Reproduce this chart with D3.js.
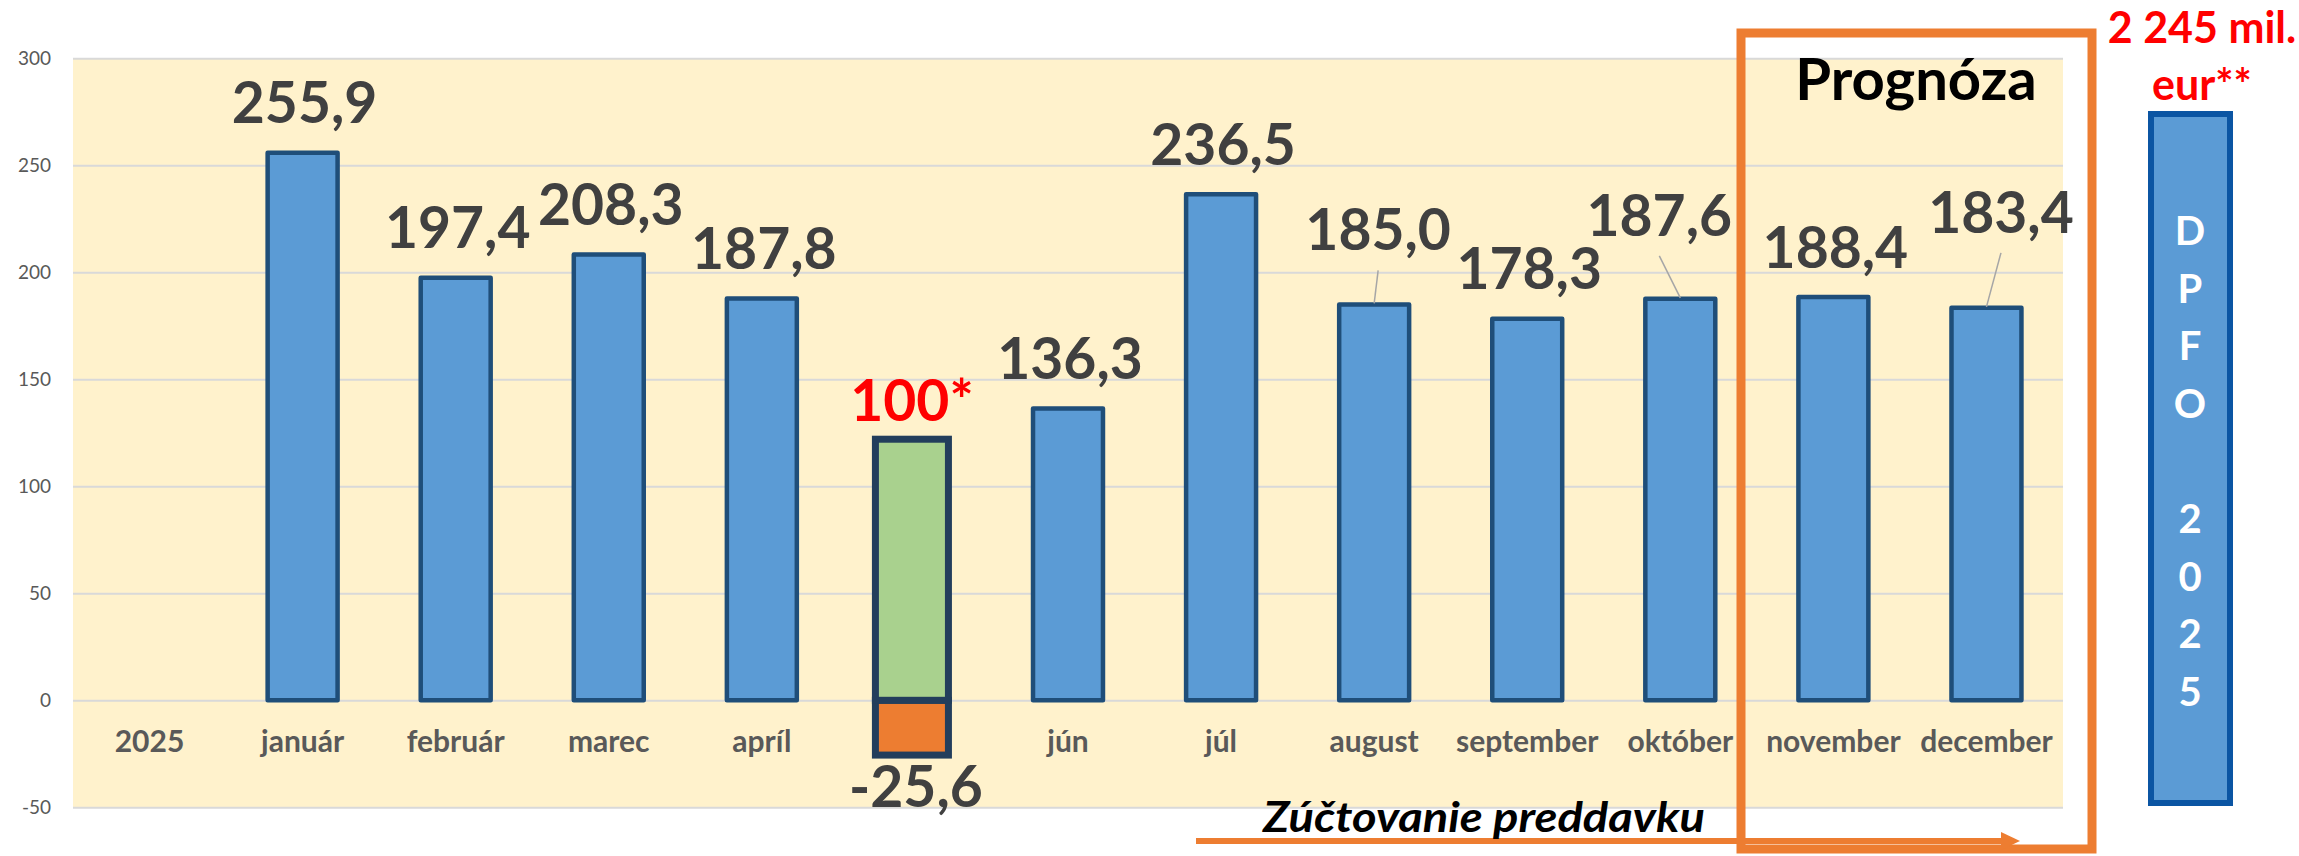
<!DOCTYPE html>
<html>
<head>
<meta charset="utf-8">
<script src="https://cdn.jsdelivr.net/npm/d3@7/dist/d3.min.js"></script>
<style>
  html, body { margin: 0; padding: 0; background: #ffffff; }
  svg { display: block; }
  text { font-family: Lato, "Open Sans", sans-serif; }
</style>
</head>
<body>
<svg id="chart" width="2299" height="856"></svg>
<script>
// ---------- DATA ----------
const categories = ["2025", "január", "február", "marec", "apríl", "máj", "jún", "júl",
                    "august", "september", "október", "november", "december"];
const monthlyValues = [null, 255.9, 197.4, 208.3, 187.8, null, 136.3, 236.5,
                       185.0, 178.3, 187.6, 188.4, 183.4];
const mayCategory = "máj";
const mayPositive = 122;      // green bar
const mayPositiveLabel = "100*";
const mayNegative = -25.6;    // orange bar
const yTicks = [-50, 0, 50, 100, 150, 200, 250, 300];
const forecastTitle = "Prognóza";
const totalLines = ["2 245 mil.", "eur**"];
const dpfoLetters = ["D", "P", "F", "O", "", "2", "0", "2", "5"];
const arrowLabel = "Zúčtovanie preddavku";

// ---------- LAYOUT ----------
const W = 2299, H = 856;
const plot = { left: 73, right: 2063, top: 58.3, bottom: 807.3 };
// label offsets relative to bar top (manually moved labels in the original)
const labelShift = { "august": [4, -54], "október": [-21, -63], "december": [14.5, -75] };
const defaultShift = [2, -29.5];
const leaderFor = new Set(["august", "október", "december"]);

const svg = d3.select("#chart");

const x = d3.scaleBand().domain(categories).range([plot.left, plot.right]).padding(0);
const y = d3.scaleLinear().domain([-50, 300]).range([plot.bottom, plot.top]);
const fmt = v => d3.format(".1f")(v).replace(".", ",").replace("−", "-");

// plot background
svg.append("rect")
  .attr("x", plot.left).attr("y", plot.top)
  .attr("width", plot.right - plot.left).attr("height", plot.bottom - plot.top)
  .attr("fill", "#fff2cc");

// gridlines + y axis labels
const yAxis = d3.axisLeft(y).tickValues(yTicks).tickSize(-(plot.right - plot.left))
  .tickFormat(d => String(d)).tickPadding(22);
const gy = svg.append("g").attr("transform", `translate(${plot.left},0)`).call(yAxis);
gy.select(".domain").remove();
gy.selectAll(".tick line").attr("stroke", "#d9d9d9").attr("stroke-width", 2);
gy.selectAll(".tick text")
  .attr("fill", "#595959").style("font-size", "19px").style("font-family", "Lato, sans-serif");

// category labels (drawn before bars, so the May label is hidden by the orange bar)
svg.append("g").selectAll("text").data(categories).join("text")
  .attr("x", d => x(d) + x.bandwidth() / 2)
  .attr("y", y(0) + 52)
  .attr("text-anchor", "middle")
  .attr("fill", "#595959")
  .style("font-size", "30px").style("font-weight", 700)
  .text(d => d);

// blue bars
const barW = x.bandwidth() * 0.457;
const barData = categories.map((c, i) => ({ c, v: monthlyValues[i] })).filter(d => d.v !== null);

svg.append("g").selectAll("rect").data(barData).join("rect")
  .attr("x", d => x(d.c) + x.bandwidth() / 2 - barW / 2)
  .attr("y", d => y(d.v))
  .attr("width", barW)
  .attr("height", d => y(0) - y(d.v))
  .attr("fill", "#5b9bd5")
  .attr("stroke", "#1f4e79")
  .attr("stroke-width", 4.5)
  .attr("stroke-linejoin", "round");

// May stacked bars
const mayW = x.bandwidth() * 0.477;
const mayX = x(mayCategory) + x.bandwidth() / 2 - mayW / 2 - 3;
svg.append("rect")
  .attr("x", mayX).attr("y", y(0))
  .attr("width", mayW).attr("height", y(mayNegative) - y(0))
  .attr("fill", "#ed7d31").attr("stroke", "#233e5c").attr("stroke-width", 7);
svg.append("rect")
  .attr("x", mayX).attr("y", y(mayPositive))
  .attr("width", mayW).attr("height", y(0) - y(mayPositive))
  .attr("fill", "#a9d18e").attr("stroke", "#233e5c").attr("stroke-width", 7);

// leader lines
svg.append("g").selectAll("line").data(barData.filter(d => leaderFor.has(d.c))).join("line")
  .attr("x1", d => x(d.c) + x.bandwidth() / 2 + (labelShift[d.c] || defaultShift)[0])
  .attr("y1", d => y(d.v) + (labelShift[d.c] || defaultShift)[1] + 20)
  .attr("x2", d => x(d.c) + x.bandwidth() / 2)
  .attr("y2", d => y(d.v) - 1)
  .attr("stroke", "#a6a6a6").attr("stroke-width", 1.5);

// value labels
svg.append("g").selectAll("text").data(barData).join("text")
  .attr("x", d => x(d.c) + x.bandwidth() / 2 + (labelShift[d.c] || defaultShift)[0])
  .attr("y", d => y(d.v) + (labelShift[d.c] || defaultShift)[1])
  .attr("text-anchor", "middle")
  .attr("fill", "#404040")
  .style("font-size", "57px").style("font-weight", 700)
  .text(d => fmt(d.v));

// May labels
svg.append("text")
  .attr("x", mayX + mayW / 2).attr("y", y(mayPositive) - 18.5)
  .attr("text-anchor", "middle").attr("fill", "#ff0000")
  .style("font-size", "57px").style("font-weight", 700)
  .text(mayPositiveLabel);
svg.append("text")
  .attr("x", mayX + mayW / 2 + 4).attr("y", y(mayNegative) + 52)
  .attr("text-anchor", "middle").attr("fill", "#404040")
  .style("font-size", "57px").style("font-weight", 700)
  .text(fmt(mayNegative));

// forecast box
svg.append("rect")
  .attr("x", 1741).attr("y", 33).attr("width", 351).attr("height", 816)
  .attr("fill", "none").attr("stroke", "#ed7d31").attr("stroke-width", 9);
svg.append("text")
  .attr("x", 1916).attr("y", 100).attr("text-anchor", "middle")
  .attr("fill", "#000000").style("font-size", "58px").style("font-weight", 700)
  .text(forecastTitle);

// total annotation
svg.selectAll("text.total").data(totalLines).join("text").attr("class", "total")
  .attr("x", 2202).attr("y", (d, i) => 43 + i * 57)
  .attr("text-anchor", "middle").attr("fill", "#ff0000")
  .style("font-size", "43px").style("font-weight", 700)
  .text(d => d);

// DPFO box
svg.append("rect")
  .attr("x", 2151).attr("y", 114).attr("width", 79).attr("height", 689)
  .attr("fill", "#5b9bd5").attr("stroke", "#0b55a3").attr("stroke-width", 6);
svg.selectAll("text.dpfo").data(dpfoLetters).join("text").attr("class", "dpfo")
  .attr("x", 2190).attr("y", (d, i) => 231 + i * 57.6 + 14)
  .attr("text-anchor", "middle").attr("fill", "#ffffff")
  .style("font-size", "40px").style("font-weight", 700)
  .text(d => d);

// arrow
svg.append("line")
  .attr("x1", 1196).attr("y1", 841).attr("x2", 2004).attr("y2", 841)
  .attr("stroke", "#ed7d31").attr("stroke-width", 6);
svg.append("path")
  .attr("d", "M2001,832 L2020,841 L2001,850 Z")
  .attr("fill", "#ed7d31");
svg.append("text")
  .attr("x", 1263).attr("y", 832)
  .attr("fill", "#000000").style("font-size", "42px").style("font-weight", 700)
  .style("font-style", "italic")
  .attr("textLength", 442).attr("lengthAdjust", "spacingAndGlyphs")
  .text(arrowLabel);
</script>
</body>
</html>
